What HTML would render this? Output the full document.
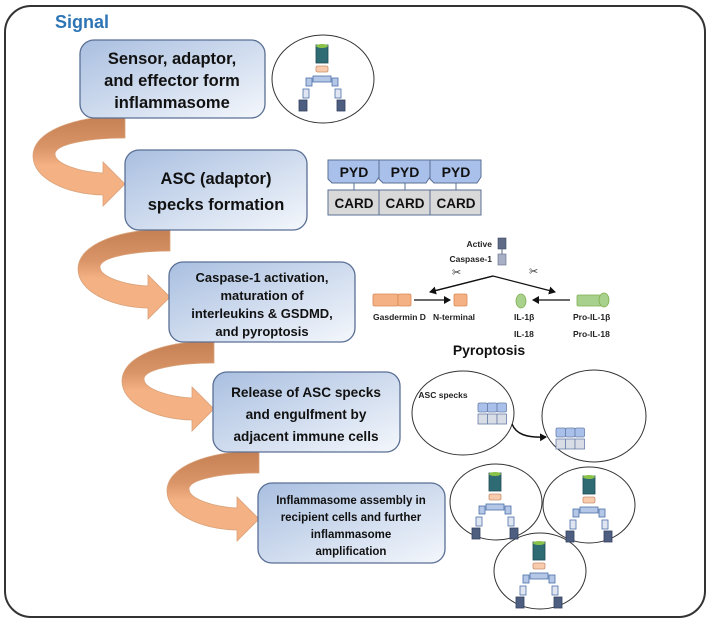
<!DOCTYPE html>
<html><head><meta charset="utf-8"><style>
html,body{margin:0;padding:0;background:#fff;}
svg{display:block;font-family:"Liberation Sans",sans-serif;}
</style></head><body>
<svg width="710" height="623" viewBox="0 0 710 623" xmlns="http://www.w3.org/2000/svg">
<defs>
<linearGradient id="bx" x1="0" y1="0" x2="1" y2="1">
<stop offset="0" stop-color="#a9bfe0"/><stop offset="1" stop-color="#f4f7fc"/>
</linearGradient>
<linearGradient id="ar" x1="0" y1="0" x2="0" y2="1">
<stop offset="0" stop-color="#c47f52"/><stop offset="0.35" stop-color="#d99468"/><stop offset="0.55" stop-color="#f4b183"/><stop offset="1" stop-color="#f4b183"/>
</linearGradient>
<path id="arw" d="M0,0 L0,22 C-35,22 -70,28 -70,38 C-70,48 -45,56 -22,57 L-22,46 L0,68 L-22,90 L-22,79 C-60,78 -92,62 -92,40 C-92,15 -50,0 0,0 Z" fill="url(#ar)" stroke="#d9a27a" stroke-width="0.8"/>
<g id="inf" stroke-width="0.8">
<rect x="-6" y="0" width="12" height="18" fill="#2f6b73" stroke="#1f4a55"/>
<ellipse cx="0" cy="1" rx="6" ry="2" fill="#8bc34a"/>
<rect x="-6" y="21" width="12" height="6" rx="1.5" fill="#f8cbad" stroke="#c99070"/>
<rect x="-9" y="31" width="18" height="6" fill="#b4c7e7" stroke="#4a6fa8"/>
<rect x="-16" y="33" width="6" height="8" fill="#b4c7e7" stroke="#4a6fa8"/>
<rect x="10" y="33" width="6" height="8" fill="#b4c7e7" stroke="#4a6fa8"/>
<rect x="-19" y="44" width="6" height="9" fill="#dfe6f2" stroke="#4a6fa8"/>
<rect x="13" y="44" width="6" height="9" fill="#dfe6f2" stroke="#4a6fa8"/>
<rect x="-23" y="55" width="8" height="11" fill="#4d5e80" stroke="#33405c"/>
<rect x="15" y="55" width="8" height="11" fill="#4d5e80" stroke="#33405c"/>
</g>
<g id="spk" stroke="#6a7fa8" stroke-width="0.8">
<rect x="0" y="0" width="9.5" height="9" rx="1.5" fill="#a9c1ea"/>
<rect x="9.5" y="0" width="9.5" height="9" rx="1.5" fill="#a9c1ea"/>
<rect x="19" y="0" width="9.5" height="9" rx="1.5" fill="#a9c1ea"/>
<rect x="0" y="11" width="9.5" height="10" fill="#d9dde6"/>
<rect x="9.5" y="11" width="9.5" height="10" fill="#d9dde6"/>
<rect x="19" y="11" width="9.5" height="10" fill="#d9dde6"/>
</g>
<marker id="mh" markerWidth="8" markerHeight="8" refX="6" refY="4" orient="auto" markerUnits="userSpaceOnUse"><path d="M0,0 L7,4 L0,8 Z" fill="#111"/></marker>
</defs>

<rect x="5" y="6" width="700" height="611" rx="26" fill="#fff" stroke="#333" stroke-width="2"/>
<text x="55" y="28" font-size="18" font-weight="bold" fill="#2e75b6">Signal</text>

<!-- arrows -->
<use href="#arw" x="125" y="116"/>
<use href="#arw" x="170" y="229"/>
<use href="#arw" x="214" y="341"/>
<use href="#arw" x="259" y="451"/>

<!-- boxes -->
<g stroke="#5a6f94" stroke-width="1.3" fill="url(#bx)">
<rect x="80" y="40" width="185" height="78" rx="14"/>
<rect x="125" y="150" width="182" height="80" rx="14"/>
<rect x="169" y="262" width="186" height="80" rx="14"/>
<rect x="213" y="372" width="187" height="80" rx="14"/>
<rect x="258" y="483" width="187" height="80" rx="14"/>
</g>
<g font-weight="bold" fill="#111" text-anchor="middle">
<text font-size="16.5" x="172" y="64">Sensor, adaptor,</text>
<text font-size="16.5" x="172" y="86">and effector form</text>
<text font-size="16.5" x="172" y="108">inflammasome</text>
<text font-size="16.5" x="216" y="184">ASC (adaptor)</text>
<text font-size="16.5" x="216" y="210">specks formation</text>
<text font-size="13" x="262" y="282">Caspase-1 activation,</text>
<text font-size="13" x="262" y="300">maturation of</text>
<text font-size="13" x="262" y="318">interleukins &amp; GSDMD,</text>
<text font-size="13" x="262" y="336">and pyroptosis</text>
<text font-size="13.6" x="306" y="397">Release of ASC specks</text>
<text font-size="13.6" x="306" y="419">and engulfment by</text>
<text font-size="13.6" x="306" y="441">adjacent immune cells</text>
<text font-size="11.5" x="351" y="504">Inflammasome assembly in</text>
<text font-size="11.5" x="351" y="521">recipient cells and further</text>
<text font-size="11.5" x="351" y="538">inflammasome</text>
<text font-size="11.5" x="351" y="555">amplification</text>
</g>

<!-- circle 1 -->
<ellipse cx="323" cy="79" rx="51" ry="44" fill="#fff" stroke="#333" stroke-width="1"/>
<use href="#inf" x="322" y="45"/>

<!-- PYD / CARD -->
<g stroke="#5a6f94" stroke-width="1">
<path d="M328,160 H379 V177 L375,183 H332 L328,179 Z" fill="#a9c1ea"/>
<path d="M379,160 H430 V177 L426,183 H383 L379,179 Z" fill="#a9c1ea"/>
<path d="M430,160 H481 V177 L477,183 H434 L430,179 Z" fill="#a9c1ea"/>
<line x1="354" y1="183" x2="354" y2="190"/><line x1="405" y1="183" x2="405" y2="190"/><line x1="456" y1="183" x2="456" y2="190"/>
<rect x="328" y="190" width="51" height="25" fill="#d9d9d9"/>
<rect x="379" y="190" width="51" height="25" fill="#d9d9d9"/>
<rect x="430" y="190" width="51" height="25" fill="#d9d9d9"/>
</g>
<g font-weight="bold" font-size="14" text-anchor="middle" fill="#111">
<text x="354" y="177">PYD</text><text x="405" y="177">PYD</text><text x="456" y="177">PYD</text>
<text x="354" y="208" font-size="13.5">CARD</text><text x="405" y="208" font-size="13.5">CARD</text><text x="456" y="208" font-size="13.5">CARD</text>
</g>

<!-- caspase diagram -->
<g font-weight="bold" font-size="8.5" fill="#222">
<text x="492" y="247" text-anchor="end">Active</text>
<text x="492" y="262" text-anchor="end">Caspase-1</text>
<text x="373" y="320">Gasdermin D</text>
<text x="433" y="320">N-terminal</text>
<text x="514" y="320">IL-1β</text>
<text x="514" y="337">IL-18</text>
<text x="573" y="320">Pro-IL-1β</text>
<text x="573" y="337">Pro-IL-18</text>
<text x="489" y="355" font-size="14" text-anchor="middle" fill="#111">Pyroptosis</text>
</g>
<rect x="498" y="238" width="8" height="11" fill="#5e6a86" stroke="#3d4760" stroke-width="0.6"/>
<rect x="498" y="254" width="8" height="11" fill="#a7b0c4" stroke="#5e6a86" stroke-width="0.6"/>
<line x1="502" y1="249" x2="502" y2="254" stroke="#5e6a86"/>
<g stroke="#111" stroke-width="1.3" fill="none">
<polyline points="430,292 493,276 555,292" marker-end="url(#mh)"/>
<line x1="493" y1="276" x2="430" y2="292" marker-end="url(#mh)"/>
<line x1="414" y1="300" x2="450" y2="300" marker-end="url(#mh)"/>
<line x1="570" y1="300" x2="533" y2="300" marker-end="url(#mh)"/>
</g>
<text x="452" y="276" font-size="11" fill="#333">✂</text>
<text x="529" y="275" font-size="11" fill="#333">✂</text>
<g stroke="#d98a55" stroke-width="0.8" fill="#f4b183">
<rect x="373" y="294" width="25" height="12" rx="1.5"/>
<rect x="398" y="294" width="13" height="12" rx="1.5"/>
<rect x="454" y="294" width="13" height="12" rx="1.5"/>
</g>
<g stroke="#7fb050" stroke-width="0.8" fill="#a9d18e">
<ellipse cx="521" cy="301" rx="5" ry="7"/>
<rect x="577" y="295" width="25" height="11" rx="1.5"/>
<ellipse cx="604" cy="300" rx="5" ry="7"/>
</g>

<!-- ASC specks transfer -->
<g fill="none" stroke="#333" stroke-width="1">
<ellipse cx="463" cy="413" rx="51" ry="42"/>
<ellipse cx="594" cy="416" rx="52" ry="46"/>
</g>
<text x="443" y="398" font-size="8.5" font-weight="bold" fill="#222" text-anchor="middle">ASC specks</text>
<use href="#spk" x="478" y="403"/>
<use href="#spk" x="556" y="428"/>
<path d="M512,424 C516,434 526,438 546,437" fill="none" stroke="#111" stroke-width="1.5" marker-end="url(#mh)"/>

<!-- bottom circles -->
<g fill="#fff" stroke="#333" stroke-width="1">
<ellipse cx="496" cy="502" rx="46" ry="38"/>
<ellipse cx="589" cy="505" rx="46" ry="38"/>
<ellipse cx="540" cy="571" rx="46" ry="38"/>
</g>
<use href="#inf" x="495" y="473"/>
<use href="#inf" x="589" y="476"/>
<use href="#inf" x="539" y="542"/>
</svg>
</body></html>
